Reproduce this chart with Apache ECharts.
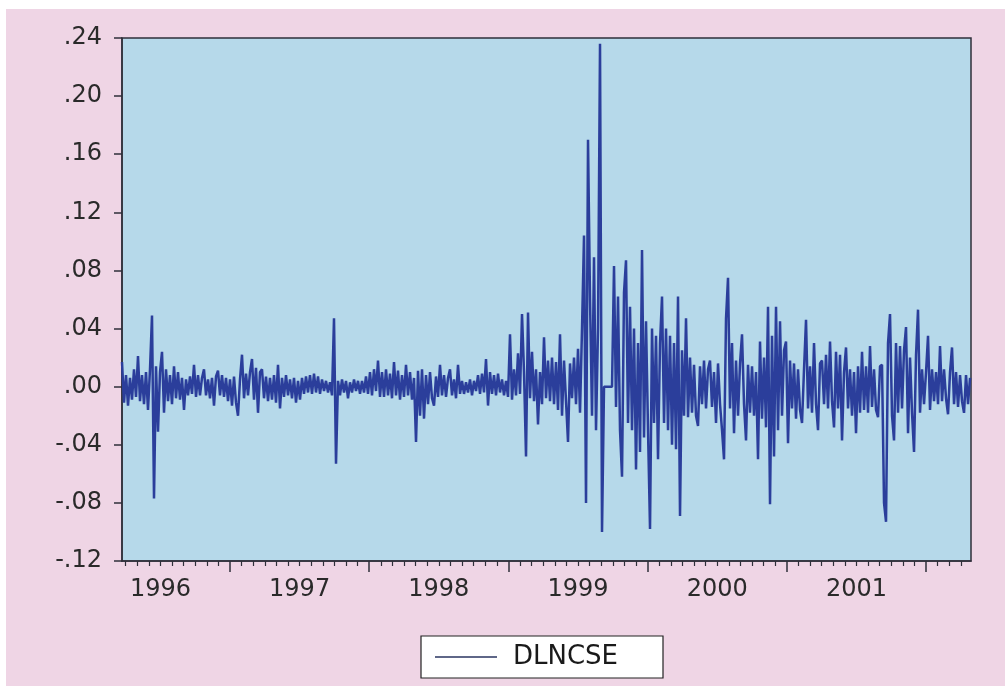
<!DOCTYPE html>
<html>
<head>
<meta charset="utf-8">
<title>DLNCSE</title>
<script src="https://cdn.jsdelivr.net/npm/echarts@6/dist/echarts.min.js"></script>
<style>
  html, body { margin: 0; padding: 0; background: #ffffff; }
  #main { position: absolute; left: 6px; top: 9px; width: 999px; height: 677px; }
</style>
</head>
<body>
<div id="main"></div>
<script>
// daily log return of the index (one value every ~5 days)
var seriesName = 'DLNCSE';
var firstObs = 1996.224;   // position of the first observation, in years
var lastObs = 2002.316;    // position of the last observation, in years
var dlncse = [
  .017,-.011,.008,-.013,.006,-.009,.012,-.007,.021,-.010,
  .008,-.012,.010,-.016,.012,.049,-.077,.014,-.031,.010,
  .024,-.018,.012,-.010,.008,-.012,.014,-.008,.010,-.009,
  .006,-.016,.005,-.006,.007,-.005,.015,-.007,.008,-.006,
  .006,.012,-.006,.005,-.008,.006,-.013,.007,.011,-.006,
  .008,-.007,.006,-.010,.005,-.013,.007,-.011,-.020,.005,
  .022,-.008,.009,-.006,.010,.019,-.009,.013,-.018,.010,
  .012,-.008,.007,-.010,.006,-.009,.008,-.011,.015,-.015,
  .006,-.007,.008,-.006,.005,-.008,.006,-.011,.004,-.009,
  .006,-.005,.007,-.004,.008,-.005,.009,-.004,.007,-.005,
  .005,-.003,.004,-.004,.003,-.006,.047,-.053,.004,-.006,
  .005,-.004,.004,-.008,.003,-.004,.005,-.003,.004,-.005,
  .004,-.004,.007,-.005,.010,-.006,.012,-.003,.018,-.007,
  .010,-.007,.012,-.006,.009,-.008,.017,-.006,.011,-.009,
  .008,-.007,.015,-.006,.010,-.009,.006,-.038,.011,-.020,
  .012,-.022,.008,-.012,.010,-.008,-.013,.007,-.007,.015,
  -.006,.008,-.007,.006,.012,-.006,.005,-.008,.015,-.005,
  .004,-.005,.003,-.004,.005,-.006,.004,-.003,.008,-.005,
  .009,-.004,.019,-.013,.010,-.005,.008,-.006,.009,-.004,
  .005,-.006,.004,-.007,.036,-.009,.012,-.006,.023,-.005,
  .050,.010,-.048,.051,-.008,.024,-.010,.012,-.026,.010,
  -.012,.034,-.008,.018,-.010,.020,-.012,.017,-.016,.036,
  -.020,.018,-.010,-.038,.016,-.008,.020,-.012,.026,-.018,
  .040,.104,-.080,.170,.060,-.020,.089,-.030,.040,.236,
  -.100,.000,.000,.000,.000,.000,.083,-.014,.062,-.030,
  -.062,.065,.087,-.025,.055,-.030,.040,-.057,.030,-.045,
  .094,-.035,.045,-.030,-.098,.040,-.025,.035,-.050,.030,
  .062,-.025,.040,-.030,.035,-.040,.030,-.043,.062,-.089,
  .025,-.020,.047,-.021,.020,-.018,.015,-.020,-.027,.014,
  -.012,.018,-.015,.012,.018,-.014,.010,-.025,.016,-.012,
  -.030,-.050,.047,.075,-.015,.030,-.032,.018,-.020,.016,
  .036,-.012,-.037,.015,-.018,.014,-.020,.010,-.050,.031,
  -.022,.020,-.028,.055,-.081,.035,-.048,.055,-.030,.045,
  -.020,.025,.031,-.039,.018,-.015,.016,-.022,.012,-.016,
  -.025,.012,.046,-.015,.014,-.018,.030,-.012,-.030,.016,
  .018,-.012,.022,-.015,.031,-.010,-.028,.024,-.015,.022,
  -.037,.010,.027,-.015,.012,-.020,.010,-.032,.014,-.018,
  .024,-.016,.014,-.018,.028,-.014,.012,-.016,-.021,.014,
  .015,-.080,-.093,.030,.050,-.020,-.037,.030,-.018,.028,
  -.015,.025,.041,-.032,.020,-.018,-.045,.022,.053,-.018,
  .012,-.012,.010,.035,-.016,.012,-.010,.010,-.012,.028,
  -.010,.012,-.008,-.019,.010,.027,-.012,.010,-.014,.008,
  -.010,-.018,.008,-.012,.006
];
// axis ticks
var yTicks = [-0.12, -0.08, -0.04, 0, 0.04, 0.08, 0.12, 0.16, 0.20, 0.24];
var yearTicks = [1997, 1998, 1999, 2000, 2001, 2002];
var yearLabels = [1996, 1997, 1998, 1999, 2000, 2001];

var xMin = 1996.224, xMax = 2002.323;
var plotColor = '#2b3e9b';
var inkColor = '#2a2a2a';
var fontName = 'DejaVu Sans';

// observation positions (evenly spaced in time)
var points = [];
var step = (lastObs - firstObs) / (dlncse.length - 1);
for (var i = 0; i < dlncse.length; i++) {
    points.push([firstObs + i * step, dlncse[i]]);
}

// month ticks between year ticks
var monthTicks = [];
for (var y = 1996; y <= 2002; y++) {
    for (var m = 1; m < 12; m++) {
        var t = y + m / 12;
        if (t > xMin && t < xMax) monthTicks.push(t);
    }
}

// labels sit in the middle of each year
var labelPos = [];
for (var j = 0; j < yearLabels.length; j++) labelPos.push(yearLabels[j] + 0.5);

function fmtY(v) {
    var s = Math.abs(v) < 1e-9 ? '0.00' : v.toFixed(2);
    return s.replace('0.', '.');
}

var chart = echarts.init(document.getElementById('main'));
chart.setOption({
    animation: false,
    backgroundColor: '#efd5e5',
    grid: {
        left: 116, top: 29, width: 849, height: 523,
        show: true, backgroundColor: '#b6d9ea',
        borderColor: '#2f2f3a', borderWidth: 1.5
    },
    legend: {
        left: 415, top: 627,
        padding: [7, 10, 7, 14],
        backgroundColor: '#ffffff',
        borderColor: '#222222', borderWidth: 1.2, borderRadius: 0,
        icon: 'rect', itemWidth: 62, itemHeight: 1.5,
        itemStyle: { color: '#2a3560' },
        textStyle: {
            fontFamily: fontName, fontSize: 26, color: '#1a1a1a',
            width: 140, lineHeight: 28, padding: [0, 0, 0, 11]
        },
        data: [seriesName]
    },
    xAxis: [{
        type: 'value', min: xMin, max: xMax,
        axisLine: { show: true, onZero: false, lineStyle: { color: '#2f2f3a', width: 1.5 } },
        axisTick: { show: true, customValues: yearTicks, length: 11, lineStyle: { color: '#2f2f3a', width: 1.5 } },
        axisLabel: {
            customValues: labelPos, margin: 17,
            fontFamily: fontName, fontSize: 24, color: inkColor,
            formatter: function (v) { return String(Math.floor(v)); }
        },
        splitLine: { show: false }
    }, {
        type: 'value', min: xMin, max: xMax, position: 'bottom',
        axisLine: { show: false, onZero: false },
        axisTick: { show: true, customValues: monthTicks, length: 5, lineStyle: { color: '#2f2f3a', width: 1.2 } },
        axisLabel: { show: false },
        splitLine: { show: false }
    }],
    yAxis: {
        type: 'value', min: -0.12, max: 0.24,
        axisLine: { show: true, onZero: false, lineStyle: { color: '#2f2f3a', width: 1.5 } },
        axisTick: { show: true, customValues: yTicks, length: 8, lineStyle: { color: '#2f2f3a', width: 1.5 } },
        axisLabel: {
            customValues: yTicks, margin: 20,
            fontFamily: fontName, fontSize: 24, color: inkColor,
            formatter: fmtY
        },
        splitLine: { show: false }
    },
    series: [{
        name: seriesName,
        type: 'line',
        xAxisIndex: 0,
        data: points,
        showSymbol: false,
        sampling: null,
        lineStyle: { color: plotColor, width: 2.5 },
        itemStyle: { color: plotColor }
    }]
});
</script>
</body>
</html>
